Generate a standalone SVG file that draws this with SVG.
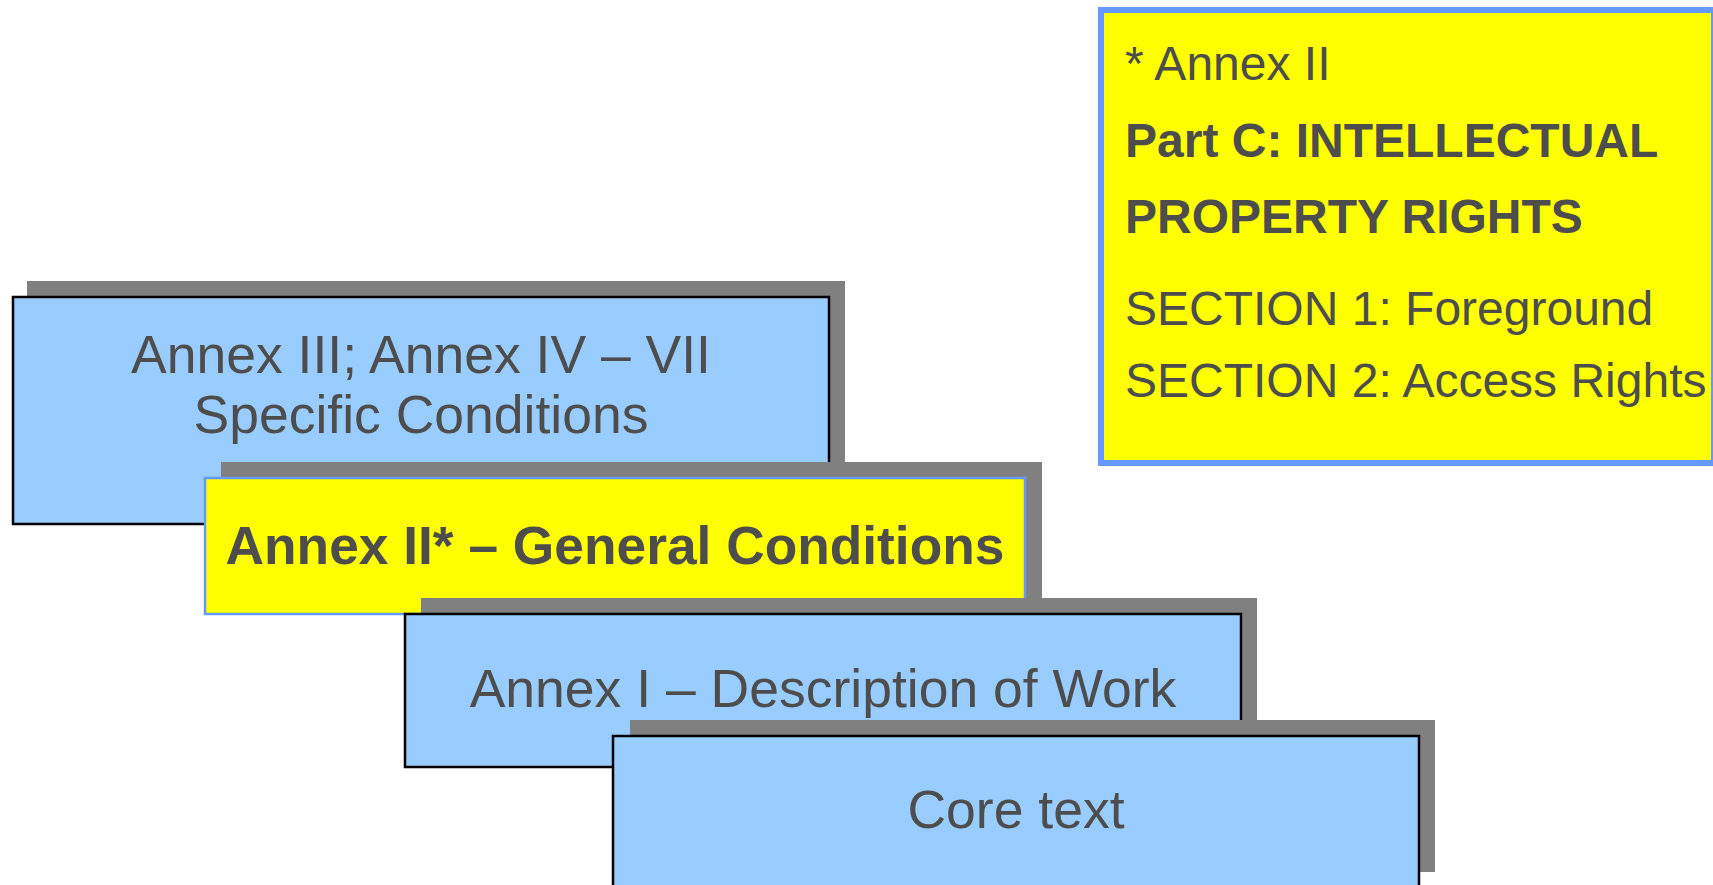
<svg xmlns="http://www.w3.org/2000/svg" width="1713" height="885" viewBox="0 0 1713 885">
  <style>
    .shadow { fill: #808080; }
    .blue { fill: #99ccff; stroke: #000000; stroke-width: 2.5; }
    .yellow { fill: #ffff00; stroke: #6699ff; stroke-width: 2.5; }
    .note { fill: #ffff00; stroke: #6699ff; stroke-width: 6; }
    .lbl { font-family: "Liberation Sans", Arial, sans-serif; font-size: 53.5px; fill: #4d4d4d; text-anchor: middle; }
    .bold { font-weight: bold; font-size: 53.3px; }
    .nt { font-family: "Liberation Sans", Arial, sans-serif; font-size: 48px; fill: #4d4d4d; }
    .ntb { font-weight: bold; }
  </style>
  <rect width="1713" height="885" fill="#ffffff"/>

  <!-- Annex III–VII: specific conditions -->
  <g id="specific-conditions">
    <rect class="shadow" x="27" y="281" width="818" height="229"/>
    <rect class="blue" x="13" y="297" width="816" height="227"/>
    <text class="lbl" x="421" y="373">Annex III; Annex IV – VII</text>
    <text class="lbl" x="421" y="433">Specific Conditions</text>
  </g>

  <!-- Annex II: general conditions -->
  <g id="general-conditions">
    <rect class="shadow" x="221" y="462" width="821" height="136"/>
    <rect class="yellow" x="205" y="478" width="820" height="136"/>
    <text class="lbl bold" x="615" y="564">Annex II* – General Conditions</text>
  </g>

  <!-- Annex I: description of work -->
  <g id="description-of-work">
    <rect class="shadow" x="421" y="598" width="836" height="153"/>
    <rect class="blue" x="405" y="614" width="836" height="153"/>
    <text class="lbl" x="823" y="707">Annex I – Description of Work</text>
  </g>

  <!-- Core text -->
  <g id="core-text">
    <rect class="shadow" x="630" y="720" width="805" height="152"/>
    <rect class="blue" x="613" y="736" width="806" height="152"/>
    <text class="lbl" x="1016" y="828">Core text</text>
  </g>

  <!-- Footnote box for Annex II -->
  <g id="annex-ii-note">
    <rect class="note" x="1101" y="10" width="613" height="453"/>
    <text class="nt" x="1125" y="80">* Annex II</text>
    <text class="nt ntb" x="1125" y="157">Part C: INTELLECTUAL</text>
    <text class="nt ntb" x="1125" y="233">PROPERTY RIGHTS</text>
    <text class="nt" x="1125" y="325">SECTION 1: Foreground</text>
    <text class="nt" x="1125" y="397">SECTION 2: Access Rights</text>
  </g>

  <g id="connectors"/>
</svg>
